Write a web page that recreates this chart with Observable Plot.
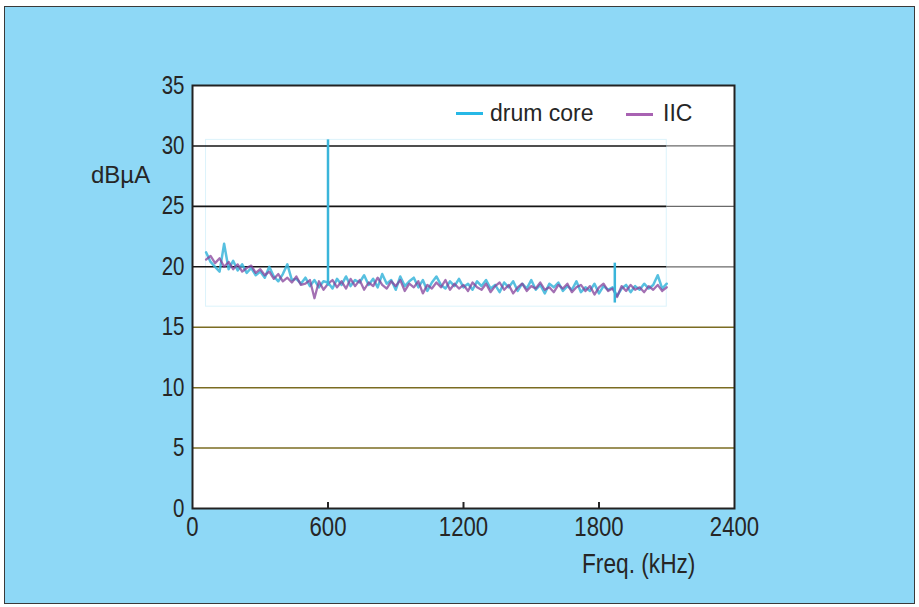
<!DOCTYPE html>
<html><head><meta charset="utf-8">
<script src="https://cdn.jsdelivr.net/npm/d3@7"></script>
<script src="https://cdn.jsdelivr.net/npm/@observablehq/plot@0.6"></script>
<style>
html,body{margin:0;padding:0;background:#fff;}
#wrap{position:relative;width:919px;height:607px;overflow:hidden;}
#bg{position:absolute;left:4px;top:6px;width:911px;height:598px;background:#8ed8f6;border:1.5px solid #3a3a3a;box-sizing:border-box;}
#chart{position:absolute;left:0;top:0;}
.lbl{position:absolute;color:#262626;white-space:nowrap;line-height:1;font-family:"Liberation Sans",Arial,sans-serif;}
.key{position:absolute;height:3px;}
</style></head>
<body>
<div id="wrap">
  <div id="bg"></div>
  <div id="chart"></div>
  <div class="lbl" style="left:91px;top:163px;font-size:24px;">dBµA</div>
  <div class="lbl" style="left:582px;top:551px;font-size:27px;transform:scaleX(0.84);transform-origin:0 0;">Freq. (kHz)</div>
  <div class="key" style="left:456px;top:112px;width:27px;background:#27b8e6;"></div>
  <div class="lbl" style="left:490px;top:102px;font-size:23px;">drum core</div>
  <div class="key" style="left:626px;top:113px;width:27px;background:#a862b2;"></div>
  <div class="lbl" style="left:663px;top:102px;font-size:23px;">IIC</div>
</div>
<script>
// Frequency sampling (kHz)
const freqStart = 60, freqStep = 20, freqEnd = 2100;
const freq = d3.range(freqStart, freqEnd + 1, freqStep);

// drum core (dBµA)
const drumCore = [
  21.2, 20.4, 20.0, 19.6, 21.9, 19.8, 20.5, 19.7, 20.2, 19.5,
  19.9, 19.3, 19.6, 19.1, 20.0, 19.2, 18.8, 19.4, 20.2, 18.9,
  19.0, 18.6, 19.1, 18.4, 18.9, 18.3, 18.8, 18.7, 18.2, 19.0,
  18.5, 19.2, 18.4, 18.9, 18.7, 19.3, 18.5, 19.0, 18.3, 19.4,
  18.6, 18.9, 18.1, 19.2, 18.4, 18.8, 19.1, 18.3, 18.9, 18.0,
  18.7, 19.2, 18.5, 18.2, 18.8, 18.4, 19.0, 18.3, 18.6, 18.1,
  18.8, 18.4, 18.9, 18.2, 18.5, 17.9, 18.7, 18.3, 18.8, 18.0,
  18.6, 18.2, 18.9, 18.1, 18.5, 17.8, 18.6, 18.3, 18.7, 18.0,
  18.4, 18.1, 18.8, 17.9, 18.3, 18.0, 18.6, 17.8, 18.4, 18.1,
  18.3, 17.6, 18.2, 18.5, 17.9, 18.4, 18.1, 18.6, 18.2, 18.5,
  19.3, 18.2, 18.6
];

// IIC (dBµA)
const iic = [
  20.6, 20.9, 20.3, 20.7, 20.0, 20.4, 19.8, 20.2, 19.6, 19.9,
  20.1, 19.5, 19.8, 19.3, 19.6, 19.0, 19.4, 18.8, 19.1, 18.7,
  19.2, 18.5, 18.6, 18.9, 17.4, 18.8, 18.1, 18.6, 18.9, 18.3,
  18.8, 18.2, 19.0, 18.4, 18.9, 18.1, 18.7, 18.4, 19.1, 18.5,
  18.2, 18.8, 18.4, 18.9, 18.0, 18.6, 18.3, 18.8, 17.8, 18.5,
  18.2, 18.7, 18.3, 18.9, 18.1, 18.6, 18.2, 18.5, 18.0, 18.7,
  18.3, 18.1, 18.6, 17.9, 18.4, 18.7, 18.1, 18.5, 17.8, 18.3,
  18.6, 18.0, 18.4, 18.2, 18.7, 18.1, 18.3, 17.9, 18.5, 18.2,
  18.6, 17.9, 18.3, 18.5, 18.0, 18.4, 17.7, 18.3, 18.6, 18.0,
  18.2, 17.5, 18.4, 18.0, 18.5, 18.1, 18.3, 17.9, 18.4, 18.1,
  18.5, 18.0, 18.3
];

// Narrow spikes in the drum core trace
const spikeFreq = [600, 1870];
const spikeLow  = [18.4, 17.0];
const spikeHigh = [30.5, 20.3];

// Axes
const yTicks = [0, 5, 10, 15, 20, 25, 30, 35];
const xTicks = [0, 600, 1200, 1800, 2400];
const xInnerTicks = [600, 1200, 1800];
const gridDark = [20, 25, 30];
const gridOlive = [5, 10, 15];

const drumColor = "#3ab5da";
const iicColor = "#84409a";
const axisFont = '"Liberation Sans",Arial,sans-serif';

const drumData = freq.map((f, i) => ({f, v: drumCore[i]}));
const iicData = freq.map((f, i) => ({f, v: iic[i]}));
const spikes = spikeFreq.map((f, i) => ({f, lo: spikeLow[i], hi: spikeHigh[i]}));
const insetEnd = freq[freq.length - 1];
const inset = [{
  x1: freq[0], x2: insetEnd,
  y1: Math.min(d3.min(drumCore), d3.min(iic), d3.min(spikeLow)) - 0.3,
  y2: d3.max(spikeHigh)
}];

const chart = Plot.plot({
  width: 919, height: 607,
  marginLeft: 192, marginRight: 185, marginTop: 85, marginBottom: 99,
  style: {background: "transparent", color: "#262626", fontFamily: axisFont},
  x: {domain: [0, 2400], label: null},
  y: {domain: [0, 35], label: null},
  marks: [
    Plot.frame({fill: "white", stroke: "none"}),
    Plot.rect(inset, {x1: "x1", x2: "x2", y1: "y1", y2: "y2", fill: "white", stroke: "#dcf3fb", strokeWidth: 1}),
    Plot.ruleY(gridDark, {x1: insetEnd, x2: 2400, stroke: "#6a6a6a", strokeWidth: 1.2}),
    Plot.ruleY(gridDark, {x1: 0, x2: insetEnd, stroke: "#151515", strokeWidth: 1.6}),
    Plot.ruleY(gridOlive, {stroke: "#7b6c22", strokeWidth: 1.5}),
    Plot.line(drumData, {x: "f", y: "v", stroke: drumColor, strokeWidth: 2.5, strokeOpacity: 0.85}),
    Plot.line(iicData, {x: "f", y: "v", stroke: iicColor, strokeWidth: 2.3, strokeOpacity: 0.75}),
    Plot.ruleX(spikes, {x: "f", y1: "lo", y2: "hi", stroke: drumColor, strokeWidth: 2.5}),
    Plot.axisY({ticks: yTicks, tickSize: 0, tickPadding: 8, fontSize: 25, fontFamily: axisFont, tickFormat: d => String(d)}),
    Plot.axisX({ticks: xTicks, tickSize: 0, tickPadding: 8, fontSize: 27, fontFamily: axisFont, tickFormat: d => String(d)}),
    Plot.axisX({ticks: xInnerTicks, tickSize: -6, text: null, strokeWidth: 2}),
    Plot.frame({stroke: "#222", strokeWidth: 2})
  ]
});
document.getElementById("chart").appendChild(chart);

// condense axis tick labels (the original uses a condensed face)
chart.querySelectorAll('g[aria-label$="tick label"] text').forEach(t => {
  const w = t.getComputedTextLength();
  t.setAttribute("textLength", (w * 0.82).toFixed(1));
  t.setAttribute("lengthAdjust", "spacingAndGlyphs");
});
</script>
</body></html>
